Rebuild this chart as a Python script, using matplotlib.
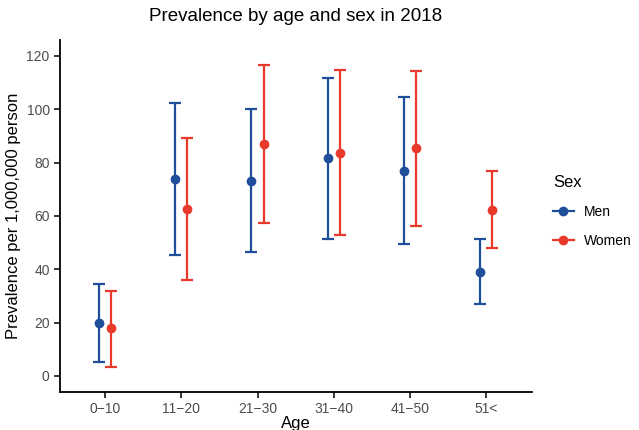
import matplotlib
matplotlib.use("Agg")
import matplotlib.pyplot as plt
from matplotlib.lines import Line2D
import numpy as np

plt.rcParams["font.family"] = ["Liberation Sans", "DejaVu Sans"]

ages = ["0\u221210", "11\u221220", "21\u221230", "31\u221240", "41\u221250", "51<"]
men = [19.7, 73.8, 73.2, 81.6, 76.9, 39.0]
men_lo = [5.2, 45.3, 46.5, 51.2, 49.4, 27.0]
men_hi = [34.5, 102.3, 100.0, 111.9, 104.5, 51.2]
women = [18.0, 62.7, 87.0, 83.8, 85.4, 62.2]
women_lo = [3.5, 36.0, 57.3, 52.7, 56.2, 47.9]
women_hi = [32.0, 89.3, 116.8, 114.7, 114.5, 76.9]

blue = "#1F4E9A"
red = "#E8392A"

fig = plt.figure(figsize=(6.39, 4.30), dpi=100)
ax = fig.add_axes([0.094, 0.0884, 0.7386, 0.8186])

x = np.arange(1, len(ages) + 1)
d = 0.08
for xs, v, lo, hi, c in [(x - d, men, men_lo, men_hi, blue), (x + d, women, women_lo, women_hi, red)]:
    v = np.array(v); lo = np.array(lo); hi = np.array(hi)
    ax.errorbar(xs, v, yerr=[v - lo, hi - v], fmt="o", color=c, ecolor=c,
                elinewidth=1.6, capsize=4, capthick=1.6, markersize=6)

ax.set_xlim(0.41, 6.6)
ax.set_ylim(-6, 126)
ax.set_xticks(x)
ax.set_xticklabels(ages)
ax.set_yticks([0, 20, 40, 60, 80, 100, 120])
for s in ["top", "right"]:
    ax.spines[s].set_visible(False)
for s in ["left", "bottom"]:
    ax.spines[s].set_linewidth(1.3)
ax.tick_params(axis="both", colors="black", labelcolor="#4D4D4D", labelsize=10, length=4, width=1.1)
ax.set_xlabel("Age", fontsize=12, labelpad=0)
ax.set_ylabel("Prevalence per 1,000,000 person", fontsize=12, labelpad=4)
ax.set_title("Prevalence by age and sex in 2018", fontsize=13.5, pad=14)

handles = [Line2D([0], [0], color=blue, marker="o", lw=1.6, markersize=6),
           Line2D([0], [0], color=red, marker="o", lw=1.6, markersize=6)]
leg = fig.legend(handles, ["Men", "Women"], title="Sex", loc="upper left",
                 bbox_to_anchor=(0.848, 0.62), frameon=False, fontsize=10,
                 title_fontsize=12, handlelength=1.5, handletextpad=0.7, labelspacing=1.1,
                 borderpad=0.3)
leg._legend_box.align = "left"

fig.savefig("out.png", dpi=100)
